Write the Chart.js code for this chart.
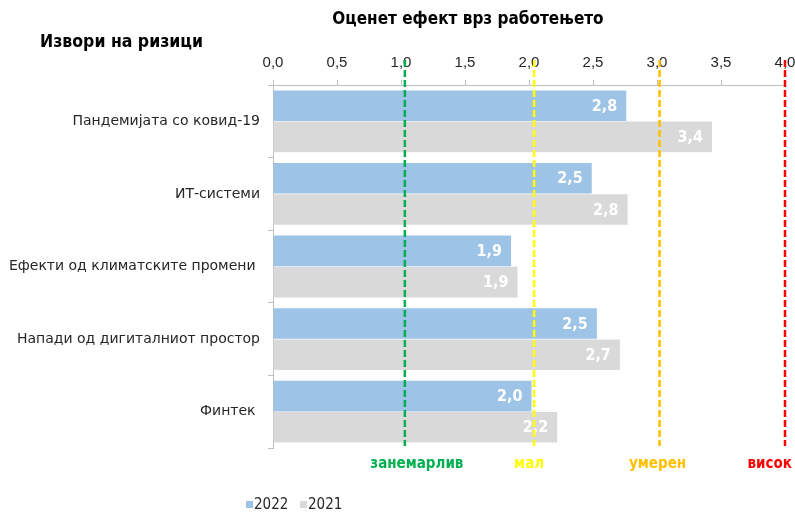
<!DOCTYPE html>
<html>
<head>
<meta charset="utf-8">
<script src="https://cdn.jsdelivr.net/npm/chart.js@4.4.1/dist/chart.umd.min.js"></script>
<style>
  html, body { margin: 0; padding: 0; background: #fff; }
  #caja { width: 795px; height: 513px; }
</style>
</head>
<body>
<div id="caja"><canvas id="grafico"></canvas></div>
<script>
const categorias = [
  "Пандемијата со ковид-19",
  "ИТ-системи",
  "Ефекти од климатските промени ",
  "Напади од дигиталниот простор",
  "Финтек "
];
const valores2022 = [2.76, 2.49, 1.86, 2.53, 2.02];
const valores2021 = [3.43, 2.77, 1.91, 2.71, 2.22];
const series = ["2022", "2021"];

// pragovi (isprekinati linii) i nivnite iminja
const pragovi = [1.03, 2.04, 3.02, 4.0];
const imiPragovi = ["занемарлив", "мал", "умерен", "висок"];

const tituloX = "Оценет ефект врз работењето";
const tituloY = "Извори на ризици";

const FUENTE = "'DejaVu Sans Condensed', 'DejaVu Sans', sans-serif";
const FUENTE_ANCHA = "'DejaVu Sans', sans-serif";
const coloresPrag = ["#00B050", "#FFFF00", "#FFC000", "#FF0000"];
const desplazPrag = [12, -5, -2, 0]; // corrimiento a mano de los textos

const coma = (v) => v.toFixed(1).replace(".", ",");

// etiquetas blancas dentro de las barras
const etiquetasBarras = {
  id: "etiquetasBarras",
  afterDatasetsDraw(chart) {
    const ctx = chart.ctx;
    ctx.save();
    ctx.font = "bold 16px " + FUENTE;
    ctx.fillStyle = "#ffffff";
    ctx.textAlign = "right";
    ctx.textBaseline = "middle";
    chart.data.datasets.forEach((ds, i) => {
      chart.getDatasetMeta(i).data.forEach((bar, j) => {
        ctx.fillText(coma(ds.data[j]), bar.x - 9, bar.y + 1);
      });
    });
    ctx.restore();
  }
};

// lineas de umbral, titulos y leyenda
const extras = {
  id: "extras",
  afterDraw(chart) {
    const ctx = chart.ctx;
    const x = chart.scales.x;
    const area = chart.chartArea;
    ctx.save();

    ctx.lineWidth = 2.5;
    ctx.setLineDash([7, 3]);
    pragovi.forEach((v, i) => {
      const px = x.getPixelForValue(v);
      ctx.strokeStyle = coloresPrag[i];
      ctx.beginPath();
      ctx.moveTo(px, area.top - 25);
      ctx.lineTo(px, area.bottom - 2);
      ctx.stroke();
    });
    ctx.setLineDash([]);

    ctx.font = "bold 15px " + FUENTE;
    ctx.textBaseline = "middle";
    ctx.textAlign = "center";
    pragovi.forEach((v, i) => {
      const w = ctx.measureText(imiPragovi[i]).width;
      let cx = x.getPixelForValue(v) + desplazPrag[i];
      cx = Math.min(cx, chart.width - 3 - w / 2);
      ctx.fillStyle = coloresPrag[i];
      ctx.fillText(imiPragovi[i], cx, area.bottom + 16);
    });

    ctx.fillStyle = "#000000";
    ctx.font = "bold 17px " + FUENTE;
    ctx.fillText(tituloX, 468, 20);
    ctx.textAlign = "left";
    ctx.font = "bold 17.5px " + FUENTE;
    ctx.fillText(tituloY, 40, 42);

    // leyenda
    ctx.font = "15px " + FUENTE;
    let lx = 246;
    const ly = 505;
    chart.data.datasets.forEach((ds) => {
      ctx.fillStyle = ds.backgroundColor;
      ctx.fillRect(lx, ly - 4, 7, 7);
      ctx.fillStyle = "#262626";
      ctx.fillText(ds.label, lx + 8, ly);
      lx += 54;
    });

    ctx.restore();
  }
};

new Chart(document.getElementById("grafico"), {
  type: "bar",
  data: {
    labels: categorias,
    datasets: [
      { label: series[0], data: valores2022, backgroundColor: "#9DC3E6" },
      { label: series[1], data: valores2021, backgroundColor: "#D9D9D9" }
    ]
  },
  options: {
    indexAxis: "y",
    responsive: true,
    maintainAspectRatio: false,
    animation: false,
    barPercentage: 0.98,
    categoryPercentage: 0.86,
    layout: { padding: { top: 0, right: 0, bottom: 65, left: 0 } },
    plugins: {
      legend: { display: false },
      tooltip: { enabled: false }
    },
    scales: {
      x: {
        position: "top",
        min: 0,
        max: 4,
        afterFit: (s) => { s.height = 85; s.paddingRight = 10; },
        ticks: {
          stepSize: 0.5,
          padding: 8,
          color: "#262626",
          font: { size: 15 },
          callback: (v) => coma(v)
        },
        grid: { drawOnChartArea: false, tickLength: 5, color: "#BFBFBF" },
        border: { color: "#BFBFBF" }
      },
      y: {
        afterFit: (s) => { s.width = 273; },
        ticks: { color: "#262626", font: { size: 14, family: FUENTE_ANCHA }, padding: 8 },
        grid: { drawOnChartArea: false, tickLength: 5, color: "#BFBFBF" },
        border: { color: "#BFBFBF" }
      }
    }
  },
  plugins: [etiquetasBarras, extras]
});
</script>
</body>
</html>
